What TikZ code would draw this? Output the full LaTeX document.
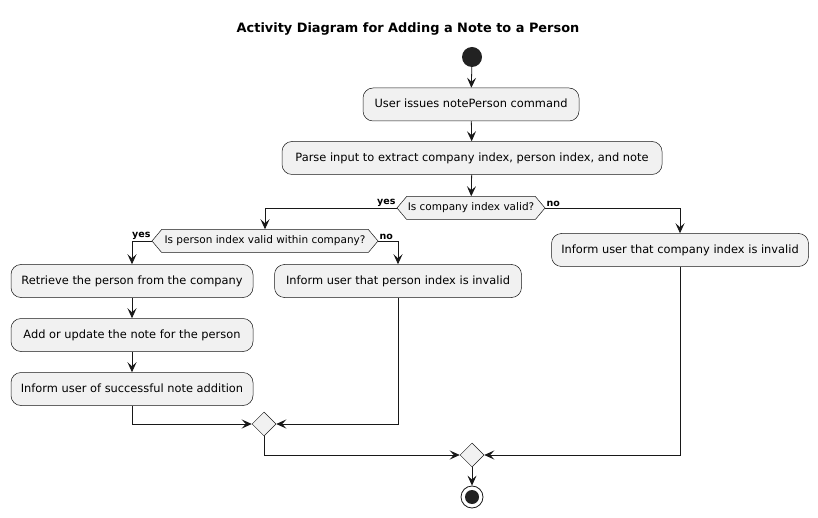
\documentclass[tikz,border=0pt]{standalone}
\usepackage{fontspec}
\setmainfont{DejaVu Sans}
\usetikzlibrary{arrows.meta,shapes.symbols,shapes.geometric}
\definecolor{lineC}{HTML}{181818}
\definecolor{boxC}{HTML}{F1F1F1}
\definecolor{dotC}{HTML}{222222}
\begin{document}
\begin{tikzpicture}[x=1pt,y=-1pt,
  act/.style={draw=lineC, fill=boxC, rounded corners=10pt, line width=0.5pt,
    font=\fontsize{11.4}{13}\selectfont, inner sep=0pt, minimum height=33pt,
    text height=8.7pt, text depth=2.6pt},
  dec/.style={draw=lineC, fill=boxC, line width=0.5pt, shape=signal,
    signal to=west and east, signal pointer angle=100,
    font=\fontsize{10.5}{12}\selectfont, inner xsep=1pt, inner ysep=0pt,
    minimum height=23pt, text height=8pt, text depth=2pt},
  merge/.style={draw=lineC, fill=boxC, line width=0.5pt, shape=diamond,
    minimum size=24pt, inner sep=0pt},
  arr/.style={draw=lineC, line width=0.8pt, -{Stealth[length=10pt,width=9pt,inset=4pt]}},
  lbl/.style={font=\bfseries\fontsize{9.5}{11}\selectfont, inner sep=1pt}
]
\useasboundingbox (0,0) rectangle (818,518);
\node[font=\bfseries\fontsize{12.9}{16}\selectfont] (title) at (408,29) {Activity Diagram for Adding a Note to a Person};
\node[circle, fill=dotC, minimum size=20pt, inner sep=0pt] (start) at (472,57) {};
\node[act, minimum width=216pt] (n1) at (471,104.5) {User issues notePerson command};
\node[act, minimum width=380pt] (n2) at (472,158) {Parse input to extract company index, person index, and note};
\node[dec, minimum width=148pt] (d1) at (471,208) {Is company index valid?};
\node[act, minimum width=257pt] (cinv) at (680,250) {Inform user that company index is invalid};
\node[dec, minimum width=226pt] (d2) at (265,241) {Is person index valid within company?};
\node[act, minimum width=242pt] (retr) at (132,281) {Retrieve the person from the company};
\node[act, minimum width=247pt] (pinv) at (398,281) {Inform user that person index is invalid};
\node[act, minimum width=242pt] (add) at (132,335) {Add or update the note for the person};
\node[act, minimum width=242pt] (succ) at (132,389) {Inform user of successful note addition};
\node[merge] (m1) at (264,424) {};
\node[merge] (m2) at (472,455) {};
\node[circle, draw=lineC, fill=white, line width=0.8pt, minimum size=22pt, inner sep=0pt] (end) at (472,497) {};
\node[circle, fill=dotC, minimum size=14pt, inner sep=0pt] (endin) at (472,497) {};

\draw[arr] (start) -- (n1);
\draw[arr] (n1) -- (n2);
\draw[arr] (n2) -- (d1);
\draw[arr] (d1.west) -| (d2.north);
\draw[arr] (d1.east) -| (cinv.north);
\node[lbl, anchor=south east] at (d1.west) {yes};
\node[lbl, anchor=south west] at (d1.east) {no};
\draw[arr] (d2.west) -| (retr.north);
\draw[arr] (d2.east) -| (pinv.north);
\node[lbl, anchor=south east] at (d2.west) {yes};
\node[lbl, anchor=south west] at (d2.east) {no};
\draw[arr] (retr) -- (add);
\draw[arr] (add) -- (succ);
\draw[arr] (succ.south) |- (m1.west);
\draw[arr] (pinv.south) |- (m1.east);
\draw[arr] (m1.south) |- (m2.west);
\draw[arr] (cinv.south) |- (m2.east);
\draw[arr] (m2.south) -- (end.north);
\end{tikzpicture}
\end{document}
